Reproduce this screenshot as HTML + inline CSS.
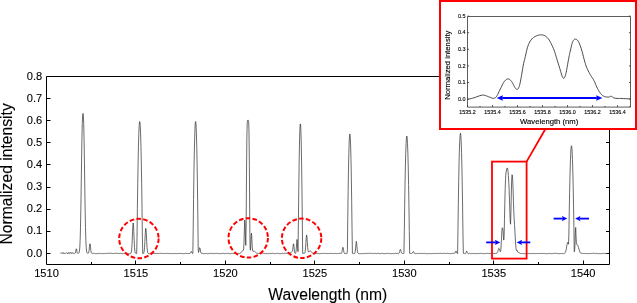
<!DOCTYPE html><html><head><meta charset="utf-8"><style>html,body{margin:0;padding:0;background:#fff;}svg{display:block;will-change:transform;}text{font-family:"Liberation Sans",sans-serif;fill:#000;}</style></head><body>
<svg width="637" height="303" viewBox="0 0 637 303">
<rect x="0" y="0" width="637" height="303" fill="#fff"/>
<path d="M46.5 76.5 H609.5 V264.5 H46.5 Z" fill="none" stroke="#000" stroke-width="1"/>
<path d="M47 253.5 h3.5 M609 253.5 h-3 M47 231.5 h3.5 M609 231.5 h-3 M47 209.5 h3.5 M609 209.5 h-3 M47 187.5 h3.5 M609 187.5 h-3 M47 164.5 h3.5 M609 164.5 h-3 M47 142.5 h3.5 M609 142.5 h-3 M47 120.5 h3.5 M609 120.5 h-3 M47 98.5 h3.5 M609 98.5 h-3 M47 76.5 h3.5 M609 76.5 h-3 M46.5 264 v-3.5 M91.5 264 v-2 M135.5 264 v-3.5 M180.5 264 v-2 M225.5 264 v-3.5 M270.5 264 v-2 M314.5 264 v-3.5 M359.5 264 v-2 M404.5 264 v-3.5 M449.5 264 v-2 M493.5 264 v-3.5 M538.5 264 v-2 M583.5 264 v-3.5" stroke="#000" stroke-width="1" fill="none"/>
<text transform="translate(42.20 256.50) scale(1 1.035)" font-size="11.10" text-anchor="end" stroke="#000" stroke-width="0.10">0.0</text>
<text transform="translate(42.20 234.38) scale(1 1.035)" font-size="11.10" text-anchor="end" stroke="#000" stroke-width="0.10">0.1</text>
<text transform="translate(42.20 212.25) scale(1 1.035)" font-size="11.10" text-anchor="end" stroke="#000" stroke-width="0.10">0.2</text>
<text transform="translate(42.20 190.12) scale(1 1.035)" font-size="11.10" text-anchor="end" stroke="#000" stroke-width="0.10">0.3</text>
<text transform="translate(42.20 168.00) scale(1 1.035)" font-size="11.10" text-anchor="end" stroke="#000" stroke-width="0.10">0.4</text>
<text transform="translate(42.20 145.88) scale(1 1.035)" font-size="11.10" text-anchor="end" stroke="#000" stroke-width="0.10">0.5</text>
<text transform="translate(42.20 123.75) scale(1 1.035)" font-size="11.10" text-anchor="end" stroke="#000" stroke-width="0.10">0.6</text>
<text transform="translate(42.20 101.62) scale(1 1.035)" font-size="11.10" text-anchor="end" stroke="#000" stroke-width="0.10">0.7</text>
<text transform="translate(42.20 79.50) scale(1 1.035)" font-size="11.10" text-anchor="end" stroke="#000" stroke-width="0.10">0.8</text>
<text transform="translate(46.50 277.30) scale(1 1.035)" font-size="11.10" text-anchor="middle" stroke="#000" stroke-width="0.10">1510</text>
<text transform="translate(135.95 277.30) scale(1 1.035)" font-size="11.10" text-anchor="middle" stroke="#000" stroke-width="0.10">1515</text>
<text transform="translate(225.40 277.30) scale(1 1.035)" font-size="11.10" text-anchor="middle" stroke="#000" stroke-width="0.10">1520</text>
<text transform="translate(314.85 277.30) scale(1 1.035)" font-size="11.10" text-anchor="middle" stroke="#000" stroke-width="0.10">1525</text>
<text transform="translate(404.30 277.30) scale(1 1.035)" font-size="11.10" text-anchor="middle" stroke="#000" stroke-width="0.10">1530</text>
<text transform="translate(493.75 277.30) scale(1 1.035)" font-size="11.10" text-anchor="middle" stroke="#000" stroke-width="0.10">1535</text>
<text transform="translate(583.20 277.30) scale(1 1.035)" font-size="11.10" text-anchor="middle" stroke="#000" stroke-width="0.10">1540</text>
<text transform="translate(327.80 299.60) scale(1 1.035)" font-size="15.70" text-anchor="middle" stroke="#000" stroke-width="0.10">Wavelength (nm)</text>
<text transform="translate(11.80 173.85) rotate(-90) scale(1 1.035)" font-size="15.70" text-anchor="middle" stroke="#000" stroke-width="0.10">Normalized intensity</text>
<path d="M60.45 253.25 L60.81 252.81 L61.17 252.80 L61.53 253.23 L61.89 253.66 L62.24 253.40 L62.60 252.91 L62.96 252.42 L63.32 253.04 L63.67 253.66 L64.03 254.00 L64.39 253.53 L64.75 253.06 L65.11 252.97 L65.46 253.25 L65.82 253.54 L66.18 253.35 L66.54 253.01 L66.89 252.66 L67.25 253.15 L67.61 253.64 L67.97 253.84 L68.33 253.18 L68.68 252.51 L69.04 252.48 L69.40 253.09 L69.76 253.70 L70.11 253.42 L70.47 252.85 L70.83 252.28 L71.19 252.85 L71.55 253.42 L71.90 253.72 L72.26 253.20 L72.62 252.67 L72.98 252.64 L73.33 253.11 L73.69 253.57 L74.05 253.62 L74.41 253.52 L74.77 253.42 L75.12 253.29 L75.48 252.71 L75.84 250.99 L76.20 248.90 L76.56 248.97 L76.91 251.13 L77.27 252.79 L77.63 253.29 L77.99 253.37 L78.34 253.35 L78.70 253.20 L79.06 252.79 L79.42 251.41 L79.78 247.87 L80.13 240.45 L80.49 227.73 L80.85 209.16 L81.21 185.94 L81.56 161.18 L81.92 139.12 L82.28 123.29 L82.64 115.16 L83.00 113.39 L83.35 115.26 L83.71 123.45 L84.07 139.17 L84.43 161.12 L84.78 185.87 L85.14 209.20 L85.50 227.80 L85.86 240.36 L86.22 247.61 L86.57 251.15 L86.93 252.62 L87.29 253.12 L87.65 253.26 L88.00 253.30 L88.36 253.19 L88.72 252.48 L89.08 250.43 L89.44 246.90 L89.79 243.88 L90.15 243.98 L90.51 247.17 L90.87 250.58 L91.22 252.51 L91.58 253.18 L91.94 253.40 L92.30 253.49 L92.66 253.48 L93.01 253.39 L93.37 253.29 L93.73 253.28 L94.09 253.29 L94.45 253.30 L94.80 253.45 L95.16 253.60 L95.52 253.71 L95.88 253.70 L96.23 253.70 L96.59 253.69 L96.95 253.67 L97.31 253.65 L97.67 253.54 L98.02 253.40 L98.38 253.25 L98.74 253.36 L99.10 253.46 L99.45 253.52 L99.81 253.49 L100.17 253.45 L100.53 253.46 L100.89 253.53 L101.24 253.59 L101.60 253.58 L101.96 253.54 L102.32 253.50 L102.67 253.52 L103.03 253.54 L103.39 253.56 L103.75 253.57 L104.11 253.58 L104.46 253.56 L104.82 253.51 L105.18 253.47 L105.54 253.45 L105.89 253.46 L106.25 253.46 L106.61 253.39 L106.97 253.33 L107.33 253.30 L107.68 253.34 L108.04 253.38 L108.40 253.38 L108.76 253.33 L109.11 253.28 L109.47 253.28 L109.83 253.30 L110.19 253.31 L110.55 253.28 L110.90 253.26 L111.26 253.25 L111.62 253.32 L111.98 253.38 L112.34 253.46 L112.69 253.56 L113.05 253.65 L113.41 253.58 L113.77 253.44 L114.12 253.31 L114.48 253.29 L114.84 253.27 L115.20 253.26 L115.56 253.27 L115.91 253.28 L116.27 253.32 L116.63 253.38 L116.99 253.45 L117.34 253.44 L117.70 253.41 L118.06 253.39 L118.42 253.48 L118.78 253.58 L119.13 253.62 L119.49 253.50 L119.85 253.38 L120.21 253.35 L120.56 253.40 L120.92 253.45 L121.28 253.50 L121.64 253.56 L122.00 253.61 L122.35 253.66 L122.71 253.70 L123.07 253.69 L123.43 253.54 L123.78 253.39 L124.14 253.30 L124.50 253.27 L124.86 253.25 L125.22 253.37 L125.57 253.54 L125.93 253.72 L126.29 253.58 L126.65 253.44 L127.00 253.36 L127.36 253.43 L127.72 253.51 L128.08 253.57 L128.44 253.62 L128.79 253.67 L129.15 253.66 L129.51 253.64 L129.87 253.61 L130.23 253.51 L130.58 253.37 L130.94 253.08 L131.30 252.23 L131.66 249.88 L132.01 244.90 L132.37 237.03 L132.73 228.37 L133.09 223.01 L133.45 224.33 L133.80 231.47 L134.16 240.53 L134.52 247.58 L134.88 251.47 L135.23 252.93 L135.59 253.30 L135.95 253.39 L136.31 253.49 L136.67 253.57 L137.02 237.49 L137.38 208.44 L137.74 183.53 L138.10 162.83 L138.45 146.28 L138.81 133.88 L139.17 125.70 L139.53 121.66 L139.89 121.66 L140.24 125.70 L140.60 133.87 L140.96 146.35 L141.32 163.02 L141.67 183.83 L142.03 208.68 L142.39 237.67 L142.75 253.69 L143.11 253.57 L143.46 253.33 L143.82 252.79 L144.18 251.28 L144.54 247.69 L144.89 241.41 L145.25 233.88 L145.61 228.53 L145.97 228.49 L146.33 233.77 L146.68 241.23 L147.04 247.47 L147.40 251.13 L147.76 252.78 L148.12 253.40 L148.47 253.63 L148.83 253.69 L149.19 253.72 L149.55 253.74 L149.90 253.58 L150.26 253.42 L150.62 253.33 L150.98 253.44 L151.34 253.55 L151.69 253.54 L152.05 253.41 L152.41 253.29 L152.77 253.27 L153.12 253.28 L153.48 253.29 L153.84 253.39 L154.20 253.49 L154.56 253.56 L154.91 253.54 L155.27 253.53 L155.63 253.52 L155.99 253.50 L156.34 253.49 L156.70 253.47 L157.06 253.45 L157.42 253.42 L157.78 253.43 L158.13 253.44 L158.49 253.45 L158.85 253.46 L159.21 253.47 L159.56 253.46 L159.92 253.45 L160.28 253.44 L160.64 253.39 L161.00 253.33 L161.35 253.27 L161.71 253.35 L162.07 253.43 L162.43 253.50 L162.78 253.51 L163.14 253.53 L163.50 253.51 L163.86 253.45 L164.22 253.40 L164.57 253.45 L164.93 253.55 L165.29 253.64 L165.65 253.63 L166.01 253.61 L166.36 253.57 L166.72 253.44 L167.08 253.31 L167.44 253.29 L167.79 253.38 L168.15 253.47 L168.51 253.48 L168.87 253.48 L169.23 253.47 L169.58 253.58 L169.94 253.68 L170.30 253.74 L170.66 253.66 L171.01 253.58 L171.37 253.53 L171.73 253.50 L172.09 253.47 L172.45 253.54 L172.80 253.65 L173.16 253.75 L173.52 253.64 L173.88 253.52 L174.23 253.44 L174.59 253.43 L174.95 253.43 L175.31 253.49 L175.67 253.60 L176.02 253.71 L176.38 253.65 L176.74 253.54 L177.10 253.43 L177.45 253.46 L177.81 253.49 L178.17 253.51 L178.53 253.47 L178.89 253.43 L179.24 253.44 L179.60 253.50 L179.96 253.56 L180.32 253.53 L180.67 253.46 L181.03 253.39 L181.39 253.38 L181.75 253.38 L182.11 253.41 L182.46 253.55 L182.82 253.68 L183.18 253.75 L183.54 253.74 L183.90 253.74 L184.25 253.64 L184.61 253.53 L184.97 253.41 L185.33 253.35 L185.68 253.30 L186.04 253.29 L186.40 253.43 L186.76 253.56 L187.12 253.61 L187.47 253.57 L187.83 253.53 L188.19 253.50 L188.55 253.48 L188.90 253.45 L189.26 253.50 L189.62 253.54 L189.98 253.49 L190.34 253.12 L190.69 252.32 L191.05 251.50 L191.41 251.51 L191.77 252.34 L192.12 253.13 L192.48 253.48 L192.84 253.56 L193.20 229.68 L193.56 199.67 L193.91 174.53 L194.27 154.29 L194.63 138.88 L194.99 128.27 L195.34 122.46 L195.70 121.48 L196.06 125.28 L196.42 133.91 L196.78 147.36 L197.13 165.86 L197.49 189.19 L197.85 217.24 L198.21 249.75 L198.56 252.45 L198.92 250.89 L199.28 248.94 L199.64 247.69 L200.00 248.18 L200.35 249.99 L200.71 251.89 L201.07 253.01 L201.43 253.48 L201.79 253.59 L202.14 253.50 L202.50 253.39 L202.86 253.39 L203.22 253.50 L203.57 253.61 L203.93 253.65 L204.29 253.66 L204.65 253.67 L205.01 253.62 L205.36 253.57 L205.72 253.52 L206.08 253.47 L206.44 253.42 L206.79 253.45 L207.15 253.57 L207.51 253.68 L207.87 253.68 L208.23 253.64 L208.58 253.59 L208.94 253.59 L209.30 253.59 L209.66 253.56 L210.01 253.47 L210.37 253.37 L210.73 253.36 L211.09 253.44 L211.45 253.51 L211.80 253.47 L212.16 253.39 L212.52 253.31 L212.88 253.44 L213.23 253.58 L213.59 253.67 L213.95 253.64 L214.31 253.60 L214.67 253.56 L215.02 253.50 L215.38 253.44 L215.74 253.39 L216.10 253.34 L216.45 253.30 L216.81 253.38 L217.17 253.46 L217.53 253.54 L217.89 253.58 L218.24 253.62 L218.60 253.66 L218.96 253.68 L219.32 253.70 L219.68 253.64 L220.03 253.56 L220.39 253.48 L220.75 253.55 L221.11 253.62 L221.46 253.63 L221.82 253.52 L222.18 253.40 L222.54 253.33 L222.90 253.33 L223.25 253.32 L223.61 253.42 L223.97 253.54 L224.33 253.67 L224.68 253.65 L225.04 253.63 L225.40 253.59 L225.76 253.49 L226.12 253.39 L226.47 253.35 L226.83 253.38 L227.19 253.42 L227.55 253.40 L227.90 253.37 L228.26 253.34 L228.62 253.43 L228.98 253.52 L229.34 253.59 L229.69 253.63 L230.05 253.68 L230.41 253.68 L230.77 253.65 L231.12 253.62 L231.48 253.54 L231.84 253.44 L232.20 253.34 L232.56 253.44 L232.91 253.55 L233.27 253.62 L233.63 253.60 L233.99 253.59 L234.34 253.57 L234.70 253.56 L235.06 253.55 L235.42 253.54 L235.78 253.54 L236.13 253.54 L236.49 253.54 L236.85 253.55 L237.21 253.52 L237.57 253.42 L237.92 253.32 L238.28 253.35 L238.64 253.49 L239.00 253.62 L239.35 253.66 L239.71 253.63 L240.07 253.56 L240.43 253.21 L240.79 252.77 L241.14 252.29 L241.50 251.88 L241.86 251.44 L242.22 251.03 L242.57 250.71 L242.93 250.56 L243.29 250.41 L243.65 248.83 L244.01 242.45 L244.36 229.88 L244.72 220.12 L245.08 224.18 L245.44 237.63 L245.79 245.38 L246.15 225.02 L246.51 175.14 L246.87 136.83 L247.23 122.85 L247.58 120.37 L247.94 120.18 L248.30 120.20 L248.66 121.65 L249.01 132.13 L249.37 165.40 L249.73 216.99 L250.09 247.83 L250.45 250.23 L250.80 243.91 L251.16 235.63 L251.52 233.15 L251.88 239.21 L252.23 246.88 L252.59 250.74 L252.95 251.51 L253.31 251.33 L253.67 251.08 L254.02 251.01 L254.38 251.14 L254.74 251.46 L255.10 251.80 L255.46 252.15 L255.81 252.48 L256.17 252.88 L256.53 253.20 L256.89 253.38 L257.24 253.38 L257.60 253.34 L257.96 253.39 L258.32 253.55 L258.68 253.70 L259.03 253.62 L259.39 253.45 L259.75 253.29 L260.11 253.33 L260.46 253.37 L260.82 253.39 L261.18 253.34 L261.54 253.30 L261.90 253.28 L262.25 253.28 L262.61 253.29 L262.97 253.29 L263.33 253.29 L263.68 253.29 L264.04 253.35 L264.40 253.41 L264.76 253.49 L265.12 253.60 L265.47 253.70 L265.83 253.69 L266.19 253.55 L266.55 253.41 L266.90 253.45 L267.26 253.56 L267.62 253.67 L267.98 253.65 L268.34 253.62 L268.69 253.59 L269.05 253.52 L269.41 253.45 L269.77 253.43 L270.12 253.45 L270.48 253.48 L270.84 253.50 L271.20 253.52 L271.56 253.55 L271.91 253.44 L272.27 253.34 L272.63 253.28 L272.99 253.35 L273.35 253.41 L273.70 253.47 L274.06 253.52 L274.42 253.57 L274.78 253.60 L275.13 253.61 L275.49 253.63 L275.85 253.51 L276.21 253.40 L276.57 253.33 L276.92 253.40 L277.28 253.47 L277.64 253.48 L278.00 253.42 L278.35 253.36 L278.71 253.41 L279.07 253.50 L279.43 253.58 L279.79 253.61 L280.14 253.64 L280.50 253.64 L280.86 253.58 L281.22 253.51 L281.57 253.45 L281.93 253.40 L282.29 253.35 L282.65 253.43 L283.01 253.55 L283.36 253.67 L283.72 253.55 L284.08 253.43 L284.44 253.34 L284.79 253.31 L285.15 253.29 L285.51 253.29 L285.87 253.31 L286.23 253.33 L286.58 253.33 L286.94 253.33 L287.30 253.33 L287.66 253.49 L288.01 253.64 L288.37 253.73 L288.73 253.60 L289.09 253.46 L289.45 253.33 L289.80 253.18 L290.16 252.95 L290.52 252.77 L290.88 252.57 L291.24 252.36 L291.59 252.03 L291.95 251.82 L292.31 251.50 L292.67 250.20 L293.02 247.07 L293.38 243.80 L293.74 244.03 L294.10 247.76 L294.46 251.38 L294.81 253.03 L295.17 253.45 L295.53 253.37 L295.89 252.51 L296.24 249.51 L296.60 243.86 L296.96 239.44 L297.32 241.13 L297.68 246.99 L298.03 251.59 L298.39 223.89 L298.75 190.83 L299.11 164.13 L299.46 144.07 L299.82 130.69 L300.18 124.00 L300.54 124.00 L300.90 130.68 L301.25 144.05 L301.61 164.11 L301.97 190.86 L302.33 224.15 L302.68 253.42 L303.04 253.25 L303.40 253.27 L303.76 253.29 L304.12 253.32 L304.47 253.34 L304.83 252.96 L305.19 251.44 L305.55 247.94 L305.90 242.56 L306.26 237.22 L306.62 234.93 L306.98 237.21 L307.34 242.44 L307.69 247.57 L308.05 250.73 L308.41 251.93 L308.77 252.02 L309.13 251.67 L309.48 251.23 L309.84 250.88 L310.20 250.78 L310.56 250.89 L310.91 251.19 L311.27 251.65 L311.63 252.14 L311.99 252.61 L312.35 252.99 L312.70 253.27 L313.06 253.45 L313.42 253.52 L313.78 253.55 L314.13 253.60 L314.49 253.65 L314.85 253.70 L315.21 253.62 L315.57 253.53 L315.92 253.46 L316.28 253.43 L316.64 253.40 L317.00 253.42 L317.35 253.48 L317.71 253.55 L318.07 253.61 L318.43 253.67 L318.79 253.72 L319.14 253.70 L319.50 253.68 L319.86 253.66 L320.22 253.62 L320.57 253.59 L320.93 253.54 L321.29 253.50 L321.65 253.46 L322.01 253.42 L322.36 253.38 L322.72 253.35 L323.08 253.43 L323.44 253.51 L323.79 253.54 L324.15 253.46 L324.51 253.38 L324.87 253.36 L325.23 253.39 L325.58 253.43 L325.94 253.46 L326.30 253.50 L326.66 253.54 L327.02 253.55 L327.37 253.56 L327.73 253.56 L328.09 253.54 L328.45 253.51 L328.80 253.48 L329.16 253.44 L329.52 253.40 L329.88 253.43 L330.24 253.49 L330.59 253.54 L330.95 253.49 L331.31 253.44 L331.67 253.41 L332.02 253.45 L332.38 253.50 L332.74 253.54 L333.10 253.58 L333.46 253.62 L333.81 253.59 L334.17 253.54 L334.53 253.48 L334.89 253.45 L335.24 253.42 L335.60 253.43 L335.96 253.55 L336.32 253.67 L336.68 253.69 L337.03 253.63 L337.39 253.56 L337.75 253.54 L338.11 253.54 L338.46 253.54 L338.82 253.45 L339.18 253.36 L339.54 253.30 L339.90 253.28 L340.25 253.27 L340.61 253.32 L340.97 253.42 L341.33 253.43 L341.68 252.94 L342.04 251.59 L342.40 249.32 L342.76 247.41 L343.12 247.43 L343.47 249.40 L343.83 251.67 L344.19 253.02 L344.55 253.49 L344.91 253.55 L345.26 253.53 L345.62 253.57 L345.98 253.63 L346.34 253.70 L346.69 253.57 L347.05 253.43 L347.41 249.90 L347.77 218.31 L348.13 191.74 L348.48 170.15 L348.84 153.55 L349.20 141.96 L349.56 135.44 L349.91 133.95 L350.27 137.48 L350.63 146.04 L350.99 159.61 L351.35 178.20 L351.70 201.78 L352.06 230.37 L352.42 253.39 L352.78 253.43 L353.13 253.46 L353.49 253.53 L353.85 253.62 L354.21 253.70 L354.57 253.53 L354.92 253.00 L355.28 251.39 L355.64 247.97 L356.00 243.54 L356.35 241.36 L356.71 243.55 L357.07 248.07 L357.43 251.50 L357.79 252.95 L358.14 253.27 L358.50 253.49 L358.86 253.64 L359.22 253.74 L359.57 253.73 L359.93 253.72 L360.29 253.72 L360.65 253.71 L361.01 253.71 L361.36 253.60 L361.72 253.45 L362.08 253.30 L362.44 253.43 L362.80 253.57 L363.15 253.68 L363.51 253.71 L363.87 253.74 L364.23 253.67 L364.58 253.52 L364.94 253.36 L365.30 253.42 L365.66 253.56 L366.02 253.70 L366.37 253.56 L366.73 253.42 L367.09 253.33 L367.45 253.36 L367.80 253.39 L368.16 253.39 L368.52 253.36 L368.88 253.33 L369.24 253.30 L369.59 253.28 L369.95 253.26 L370.31 253.33 L370.67 253.40 L371.02 253.45 L371.38 253.40 L371.74 253.36 L372.10 253.41 L372.46 253.56 L372.81 253.71 L373.17 253.64 L373.53 253.50 L373.89 253.36 L374.24 253.41 L374.60 253.46 L374.96 253.48 L375.32 253.44 L375.68 253.41 L376.03 253.44 L376.39 253.56 L376.75 253.68 L377.11 253.62 L377.46 253.49 L377.82 253.37 L378.18 253.33 L378.54 253.30 L378.90 253.31 L379.25 253.48 L379.61 253.65 L379.97 253.71 L380.33 253.66 L380.69 253.61 L381.04 253.56 L381.40 253.51 L381.76 253.47 L382.12 253.42 L382.47 253.36 L382.83 253.35 L383.19 253.47 L383.55 253.58 L383.91 253.64 L384.26 253.65 L384.62 253.67 L384.98 253.66 L385.34 253.65 L385.69 253.63 L386.05 253.56 L386.41 253.49 L386.77 253.43 L387.13 253.41 L387.48 253.38 L387.84 253.40 L388.20 253.47 L388.56 253.54 L388.91 253.56 L389.27 253.57 L389.63 253.57 L389.99 253.56 L390.35 253.56 L390.70 253.56 L391.06 253.57 L391.42 253.58 L391.78 253.57 L392.13 253.56 L392.49 253.55 L392.85 253.59 L393.21 253.66 L393.57 253.72 L393.92 253.64 L394.28 253.56 L394.64 253.48 L395.00 253.39 L395.35 253.29 L395.71 253.30 L396.07 253.41 L396.43 253.52 L396.79 253.50 L397.14 253.43 L397.50 253.37 L397.86 253.48 L398.22 253.59 L398.58 253.63 L398.93 253.38 L399.29 252.78 L399.65 251.59 L400.01 250.11 L400.36 249.38 L400.72 250.11 L401.08 251.58 L401.44 252.73 L401.80 253.27 L402.15 253.44 L402.51 253.49 L402.87 253.50 L403.23 253.51 L403.58 253.49 L403.94 253.46 L404.30 231.75 L404.66 206.23 L405.02 184.63 L405.37 166.94 L405.73 153.37 L406.09 143.71 L406.45 137.94 L406.80 135.99 L407.16 137.96 L407.52 143.79 L407.88 153.46 L408.24 167.05 L408.59 184.63 L408.95 206.16 L409.31 231.60 L409.67 253.36 L410.02 253.43 L410.38 253.49 L410.74 253.51 L411.10 253.52 L411.46 253.50 L411.81 253.44 L412.17 253.29 L412.53 253.00 L412.89 252.30 L413.24 251.59 L413.60 251.57 L413.96 252.37 L414.32 253.16 L414.68 253.54 L415.03 253.64 L415.39 253.62 L415.75 253.55 L416.11 253.47 L416.47 253.49 L416.82 253.55 L417.18 253.60 L417.54 253.61 L417.90 253.63 L418.25 253.62 L418.61 253.53 L418.97 253.44 L419.33 253.37 L419.69 253.32 L420.04 253.27 L420.40 253.35 L420.76 253.48 L421.12 253.61 L421.47 253.53 L421.83 253.45 L422.19 253.41 L422.55 253.46 L422.91 253.52 L423.26 253.50 L423.62 253.42 L423.98 253.33 L424.34 253.35 L424.69 253.40 L425.05 253.46 L425.41 253.52 L425.77 253.58 L426.13 253.63 L426.48 253.64 L426.84 253.65 L427.20 253.67 L427.56 253.71 L427.91 253.74 L428.27 253.69 L428.63 253.60 L428.99 253.51 L429.35 253.53 L429.70 253.55 L430.06 253.57 L430.42 253.61 L430.78 253.65 L431.13 253.66 L431.49 253.62 L431.85 253.58 L432.21 253.58 L432.57 253.59 L432.92 253.59 L433.28 253.51 L433.64 253.42 L434.00 253.38 L434.36 253.51 L434.71 253.63 L435.07 253.61 L435.43 253.44 L435.79 253.28 L436.14 253.31 L436.50 253.41 L436.86 253.51 L437.22 253.49 L437.58 253.46 L437.93 253.45 L438.29 253.48 L438.65 253.50 L439.01 253.48 L439.36 253.41 L439.72 253.34 L440.08 253.32 L440.44 253.33 L440.80 253.33 L441.15 253.38 L441.51 253.43 L441.87 253.47 L442.23 253.49 L442.58 253.50 L442.94 253.49 L443.30 253.44 L443.66 253.39 L444.02 253.36 L444.37 253.34 L444.73 253.31 L445.09 253.40 L445.45 253.49 L445.80 253.54 L446.16 253.47 L446.52 253.41 L446.88 253.35 L447.24 253.31 L447.59 253.27 L447.95 253.33 L448.31 253.42 L448.67 253.52 L449.02 253.56 L449.38 253.61 L449.74 253.64 L450.10 253.64 L450.46 253.64 L450.81 253.59 L451.17 253.50 L451.53 253.41 L451.89 253.39 L452.25 253.40 L452.60 253.41 L452.96 253.35 L453.32 253.30 L453.68 253.26 L454.03 253.28 L454.39 253.29 L454.75 253.25 L455.11 252.93 L455.47 252.09 L455.82 251.15 L456.18 251.16 L456.54 252.15 L456.90 253.09 L457.25 253.51 L457.61 253.61 L457.97 228.74 L458.33 203.15 L458.69 181.50 L459.04 163.80 L459.40 150.10 L459.76 140.45 L460.12 134.82 L460.47 133.19 L460.83 135.58 L461.19 141.98 L461.55 152.40 L461.91 166.93 L462.26 185.46 L462.62 207.86 L462.98 234.15 L463.34 253.34 L463.69 253.39 L464.05 253.49 L464.41 253.60 L464.77 253.58 L465.13 253.54 L465.48 253.41 L465.84 252.96 L466.20 252.02 L466.56 251.15 L466.91 251.28 L467.27 252.30 L467.63 253.21 L467.99 253.60 L468.35 253.70 L468.70 253.57 L469.06 253.43 L469.42 253.35 L469.78 253.45 L470.14 253.56 L470.49 253.60 L470.85 253.59 L471.21 253.58 L471.57 253.54 L471.92 253.50 L472.28 253.46 L472.64 253.44 L473.00 253.42 L473.36 253.44 L473.71 253.57 L474.07 253.70 L474.43 253.73 L474.79 253.67 L475.14 253.60 L475.50 253.57 L475.86 253.55 L476.22 253.53 L476.58 253.52 L476.93 253.51 L477.29 253.52 L477.65 253.57 L478.01 253.63 L478.36 253.62 L478.72 253.55 L479.08 253.47 L479.44 253.40 L479.80 253.33 L480.15 253.26 L480.51 253.37 L480.87 253.48 L481.23 253.55 L481.58 253.52 L481.94 253.49 L482.30 253.52 L482.66 253.60 L483.02 253.68 L483.37 253.68 L483.73 253.65 L484.09 253.62 L484.45 253.54 L484.80 253.47 L485.16 253.44 L485.52 253.55 L485.88 253.65 L486.24 253.63 L486.59 253.48 L486.95 253.33 L487.31 253.29 L487.67 253.29 L488.03 253.28 L488.38 253.44 L488.74 253.60 L489.10 253.67 L489.46 253.51 L489.81 253.35 L490.17 253.32 L490.53 253.43 L490.89 253.54 L491.25 253.51 L491.60 253.43 L491.96 253.36 L492.32 253.36 L492.68 253.36 L493.03 253.39 L493.39 253.47 L493.75 253.56 L494.11 253.57 L494.47 253.50 L494.82 253.42 L495.18 253.41 L495.54 253.41 L495.90 253.42 L496.25 253.39 L496.61 253.36 L496.97 253.14 L497.33 252.41 L497.69 251.64 L498.04 250.60 L498.40 249.46 L498.76 248.32 L499.12 248.67 L499.47 249.52 L499.83 250.46 L500.19 251.68 L500.55 251.48 L500.91 248.97 L501.26 242.41 L501.62 236.06 L501.98 229.99 L502.34 227.73 L502.69 228.09 L503.05 230.86 L503.41 236.84 L503.77 240.13 L504.13 235.70 L504.48 219.29 L504.84 202.17 L505.20 188.42 L505.56 179.24 L505.92 173.21 L506.27 171.07 L506.63 168.96 L506.99 168.34 L507.35 167.91 L507.70 169.04 L508.06 171.54 L508.42 175.53 L508.78 182.21 L509.14 189.70 L509.49 200.18 L509.85 210.82 L510.21 221.66 L510.57 224.22 L510.92 212.51 L511.28 195.04 L511.64 181.08 L512.00 174.72 L512.36 175.15 L512.71 179.92 L513.07 188.93 L513.43 201.50 L513.79 211.82 L514.14 218.58 L514.50 224.48 L514.86 230.23 L515.22 237.48 L515.58 243.00 L515.93 247.48 L516.29 249.94 L516.65 250.62 L517.01 250.69 L517.36 250.34 L517.72 251.99 L518.08 252.39 L518.44 252.45 L518.80 252.59 L519.15 252.77 L519.51 252.95 L519.87 253.12 L520.23 253.46 L520.58 253.47 L520.94 253.45 L521.30 253.43 L521.66 253.44 L522.02 253.48 L522.37 253.51 L522.73 253.54 L523.09 253.57 L523.45 253.60 L523.81 253.63 L524.16 253.65 L524.52 253.68 L524.88 253.70 L525.24 253.72 L525.59 253.67 L525.95 253.54 L526.31 253.42 L526.67 253.38 L527.03 253.37 L527.38 253.36 L527.74 253.41 L528.10 253.45 L528.46 253.47 L528.81 253.43 L529.17 253.39 L529.53 253.41 L529.89 253.48 L530.25 253.56 L530.60 253.59 L530.96 253.61 L531.32 253.62 L531.68 253.60 L532.03 253.58 L532.39 253.54 L532.75 253.44 L533.11 253.35 L533.47 253.38 L533.82 253.54 L534.18 253.70 L534.54 253.68 L534.90 253.59 L535.25 253.50 L535.61 253.55 L535.97 253.60 L536.33 253.61 L536.69 253.51 L537.04 253.41 L537.40 253.40 L537.76 253.48 L538.12 253.56 L538.47 253.58 L538.83 253.58 L539.19 253.59 L539.55 253.58 L539.91 253.56 L540.26 253.54 L540.62 253.52 L540.98 253.49 L541.34 253.46 L541.70 253.41 L542.05 253.37 L542.41 253.42 L542.77 253.50 L543.13 253.58 L543.48 253.48 L543.84 253.39 L544.20 253.35 L544.56 253.49 L544.92 253.64 L545.27 253.69 L545.63 253.66 L545.99 253.63 L546.35 253.65 L546.70 253.68 L547.06 253.71 L547.42 253.71 L547.78 253.71 L548.14 253.67 L548.49 253.54 L548.85 253.42 L549.21 253.36 L549.57 253.37 L549.92 253.38 L550.28 253.46 L550.64 253.56 L551.00 253.67 L551.36 253.67 L551.71 253.67 L552.07 253.65 L552.43 253.61 L552.79 253.57 L553.14 253.51 L553.50 253.45 L553.86 253.39 L554.22 253.36 L554.58 253.35 L554.93 253.33 L555.29 253.35 L555.65 253.36 L556.01 253.38 L556.36 253.41 L556.72 253.44 L557.08 253.49 L557.44 253.58 L557.80 253.67 L558.15 253.65 L558.51 253.60 L558.87 253.55 L559.23 253.59 L559.59 253.63 L559.94 253.65 L560.30 253.58 L560.66 253.52 L561.02 253.48 L561.37 253.47 L561.73 253.47 L562.09 253.52 L562.45 253.59 L562.81 253.66 L563.16 253.65 L563.52 253.63 L563.88 253.58 L564.24 253.43 L564.59 253.20 L564.95 252.95 L565.31 252.58 L565.67 251.84 L566.03 250.42 L566.38 248.47 L566.74 246.25 L567.10 244.24 L567.46 242.78 L567.81 242.23 L568.17 242.75 L568.53 244.19 L568.89 234.00 L569.25 211.65 L569.60 192.66 L569.96 176.74 L570.32 163.97 L570.68 154.45 L571.03 148.35 L571.39 145.74 L571.75 146.68 L572.11 151.21 L572.47 159.35 L572.82 171.04 L573.18 186.28 L573.54 205.05 L573.90 227.41 L574.25 251.81 L574.61 250.40 L574.97 244.83 L575.33 232.76 L575.69 227.46 L576.04 236.08 L576.40 243.23 L576.76 244.55 L577.12 244.56 L577.48 244.88 L577.83 245.57 L578.19 246.58 L578.55 247.77 L578.91 249.00 L579.26 250.14 L579.62 251.15 L579.98 252.06 L580.34 252.76 L580.70 253.14 L581.05 253.23 L581.41 253.23 L581.77 253.29 L582.13 253.35 L582.48 253.40 L582.84 253.44 L583.20 253.48 L583.56 253.50 L583.92 253.50 L584.27 253.49 L584.63 253.49 L584.99 253.51 L585.35 253.52 L585.70 253.56 L586.06 253.61 L586.42 253.66 L586.78 253.60 L587.14 253.53 L587.49 253.51 L587.85 253.60 L588.21 253.70 L588.57 253.70 L588.92 253.61 L589.28 253.52 L589.64 253.48 L590.00 253.45 L590.36 253.42 L590.71 253.46 L591.07 253.50 L591.43 253.52 L591.79 253.50 L592.14 253.48 L592.50 253.43 L592.86 253.35 L593.22 253.28 L593.58 253.27 L593.93 253.28 L594.29 253.29 L594.65 253.44 L595.01 253.58 L595.37 253.66 L595.72 253.53 L596.08 253.41 L596.44 253.36 L596.80 253.39 L597.15 253.43 L597.51 253.52 L597.87 253.63 L598.23 253.74 L598.59 253.68 L598.94 253.62 L599.30 253.58 L599.66 253.60 L600.02 253.63 L600.37 253.66 L600.73 253.69 L601.09 253.72 L601.45 253.66 L601.81 253.57 L602.16 253.48 L602.52 253.40 L602.88 253.33 L603.24 253.30 L603.59 253.42 L603.95 253.54 L604.31 253.54 L604.67 253.44 L605.03 253.33 L605.38 253.33 L605.74 253.36 L606.10 253.40 L606.46 253.50 L606.81 253.61 L607.17 253.66 L607.53 253.52 L607.89 253.38 L608.25 253.33 L608.60 253.38 L608.96 253.43" fill="none" stroke="#3a3a3a" stroke-width="0.75" stroke-linejoin="round"/>
<circle cx="138.9" cy="238.5" r="19.7" fill="none" stroke="#f00" stroke-width="2" stroke-dasharray="4.6 2.3"/>
<circle cx="248.2" cy="237.9" r="19.7" fill="none" stroke="#f00" stroke-width="2" stroke-dasharray="4.6 2.3"/>
<circle cx="301.6" cy="238.3" r="19.7" fill="none" stroke="#f00" stroke-width="2" stroke-dasharray="4.6 2.3"/>
<rect x="492" y="161.6" width="34.6" height="97" fill="none" stroke="#f00" stroke-width="1.8"/>
<path d="M545.4 129 L526.6 161.6" stroke="#f00" stroke-width="1.8" fill="none"/>
<path d="M486.2 242.4 L495.9 242.4" stroke="#00f" stroke-width="1.8" fill="none"/><path d="M500.3 242.4 L494.9 239.7 L495.9 242.4 L494.9 245.1 Z" fill="#00f"/>
<path d="M530.3 242.4 L521.1 242.4" stroke="#00f" stroke-width="1.8" fill="none"/><path d="M516.7 242.4 L522.1 239.7 L521.1 242.4 L522.1 245.1 Z" fill="#00f"/>
<path d="M553.6 218.6 L562.9 218.6" stroke="#00f" stroke-width="1.8" fill="none"/><path d="M567.3 218.6 L561.9 215.9 L562.9 218.6 L561.9 221.3 Z" fill="#00f"/>
<path d="M589.0 218.6 L579.5 218.6" stroke="#00f" stroke-width="1.8" fill="none"/><path d="M575.1 218.6 L580.5 215.9 L579.5 218.6 L580.5 221.3 Z" fill="#00f"/>
<rect x="440" y="1" width="196" height="128" fill="#fff" stroke="#f00" stroke-width="2"/>
<path d="M467.5 16.5 H630.5 V107.1 H467.5 Z" fill="none" stroke="#333" stroke-width="0.8"/>
<path d="M467.5 99.10 h1.6 M630.5 99.10 h-1.6 M467.5 82.50 h1.6 M630.5 82.50 h-1.6 M467.5 65.90 h1.6 M630.5 65.90 h-1.6 M467.5 49.30 h1.6 M630.5 49.30 h-1.6 M467.5 32.70 h1.6 M630.5 32.70 h-1.6 M467.5 16.10 h1.6 M630.5 16.10 h-1.6 M467.50 107.1 v-2 M480.00 107.1 v-1.2 M492.50 107.1 v-2 M505.00 107.1 v-1.2 M517.50 107.1 v-2 M530.00 107.1 v-1.2 M542.50 107.1 v-2 M555.00 107.1 v-1.2 M567.50 107.1 v-2 M580.00 107.1 v-1.2 M592.50 107.1 v-2 M605.00 107.1 v-1.2 M617.50 107.1 v-2 M630.00 107.1 v-1.2" stroke="#333" stroke-width="0.8" fill="none"/>
<text transform="translate(465.60 100.70) scale(1 1.035)" font-size="5.50" text-anchor="end" stroke="#000" stroke-width="0.12">0.0</text>
<text transform="translate(465.60 84.10) scale(1 1.035)" font-size="5.50" text-anchor="end" stroke="#000" stroke-width="0.12">0.1</text>
<text transform="translate(465.60 67.50) scale(1 1.035)" font-size="5.50" text-anchor="end" stroke="#000" stroke-width="0.12">0.2</text>
<text transform="translate(465.60 50.90) scale(1 1.035)" font-size="5.50" text-anchor="end" stroke="#000" stroke-width="0.12">0.3</text>
<text transform="translate(465.60 34.30) scale(1 1.035)" font-size="5.50" text-anchor="end" stroke="#000" stroke-width="0.12">0.4</text>
<text transform="translate(465.60 17.70) scale(1 1.035)" font-size="5.50" text-anchor="end" stroke="#000" stroke-width="0.12">0.5</text>
<text transform="translate(467.50 113.70) scale(1 1.035)" font-size="5.35" text-anchor="middle" stroke="#000" stroke-width="0.12">1535.2</text>
<text transform="translate(492.50 113.70) scale(1 1.035)" font-size="5.35" text-anchor="middle" stroke="#000" stroke-width="0.12">1535.4</text>
<text transform="translate(517.50 113.70) scale(1 1.035)" font-size="5.35" text-anchor="middle" stroke="#000" stroke-width="0.12">1535.6</text>
<text transform="translate(542.50 113.70) scale(1 1.035)" font-size="5.35" text-anchor="middle" stroke="#000" stroke-width="0.12">1535.8</text>
<text transform="translate(567.50 113.70) scale(1 1.035)" font-size="5.35" text-anchor="middle" stroke="#000" stroke-width="0.12">1536.0</text>
<text transform="translate(592.50 113.70) scale(1 1.035)" font-size="5.35" text-anchor="middle" stroke="#000" stroke-width="0.12">1536.2</text>
<text transform="translate(617.50 113.70) scale(1 1.035)" font-size="5.35" text-anchor="middle" stroke="#000" stroke-width="0.12">1536.4</text>
<text transform="translate(549.20 124.20) scale(1 1.035)" font-size="7.70" text-anchor="middle" stroke="#000" stroke-width="0.12">Wavelength (nm)</text>
<text transform="translate(449.90 65.20) rotate(-90) scale(1 1.035)" font-size="7.70" text-anchor="middle" stroke="#000" stroke-width="0.12">Normalized intensity</text>
<path d="M467.50 99.40 L468.17 99.24 L469.08 99.03 L470.16 98.77 L471.37 98.47 L472.63 98.15 L473.90 97.80 L475.24 97.36 L476.70 96.82 L478.22 96.25 L479.74 95.72 L481.19 95.31 L482.50 95.10 L483.67 95.12 L484.74 95.31 L485.75 95.63 L486.70 96.01 L487.61 96.38 L488.50 96.70 L489.36 97.00 L490.19 97.35 L490.97 97.70 L491.71 98.00 L492.42 98.22 L493.10 98.30 L493.72 98.29 L494.27 98.24 L494.79 98.09 L495.30 97.82 L495.82 97.37 L496.40 96.70 L497.03 95.74 L497.69 94.51 L498.36 93.11 L499.05 91.62 L499.73 90.15 L500.40 88.80 L501.06 87.49 L501.71 86.15 L502.37 84.82 L503.02 83.56 L503.66 82.44 L504.30 81.50 L504.93 80.73 L505.55 80.09 L506.17 79.58 L506.78 79.21 L507.39 78.98 L508.00 78.90 L508.61 78.99 L509.22 79.26 L509.82 79.66 L510.43 80.19 L511.02 80.81 L511.60 81.50 L512.18 82.35 L512.76 83.40 L513.33 84.54 L513.88 85.68 L514.41 86.70 L514.90 87.50 L515.35 88.12 L515.77 88.65 L516.17 89.07 L516.55 89.35 L516.92 89.47 L517.30 89.40 L517.68 89.16 L518.06 88.75 L518.42 88.19 L518.79 87.46 L519.15 86.56 L519.50 85.50 L519.85 84.21 L520.19 82.67 L520.52 80.97 L520.86 79.17 L521.18 77.36 L521.50 75.60 L521.81 73.85 L522.11 72.03 L522.40 70.20 L522.69 68.39 L522.99 66.64 L523.30 65.00 L523.61 63.51 L523.93 62.15 L524.25 60.85 L524.58 59.55 L524.93 58.19 L525.30 56.70 L525.68 55.03 L526.07 53.21 L526.47 51.33 L526.91 49.47 L527.38 47.70 L527.90 46.10 L528.47 44.66 L529.09 43.30 L529.74 42.04 L530.43 40.89 L531.15 39.83 L531.90 38.90 L532.70 38.09 L533.56 37.41 L534.46 36.84 L535.36 36.36 L536.25 35.95 L537.10 35.60 L537.92 35.31 L538.73 35.10 L539.53 34.96 L540.31 34.89 L541.07 34.87 L541.80 34.90 L542.50 34.96 L543.16 35.06 L543.79 35.21 L544.42 35.44 L545.05 35.76 L545.70 36.20 L546.36 36.74 L547.01 37.35 L547.68 38.06 L548.34 38.88 L549.01 39.82 L549.70 40.90 L550.42 42.16 L551.16 43.60 L551.92 45.17 L552.66 46.80 L553.36 48.43 L554.00 50.00 L554.56 51.53 L555.07 53.06 L555.54 54.59 L555.99 56.12 L556.43 57.66 L556.90 59.20 L557.39 60.77 L557.89 62.36 L558.39 63.96 L558.88 65.53 L559.35 67.05 L559.80 68.50 L560.23 69.91 L560.63 71.33 L561.02 72.69 L561.40 73.95 L561.76 75.07 L562.10 76.00 L562.42 76.75 L562.71 77.37 L562.98 77.84 L563.25 78.16 L563.52 78.31 L563.80 78.30 L564.10 78.11 L564.40 77.75 L564.70 77.23 L565.00 76.56 L565.30 75.75 L565.60 74.80 L565.89 73.67 L566.17 72.34 L566.46 70.86 L566.74 69.31 L567.02 67.73 L567.30 66.20 L567.59 64.66 L567.87 63.06 L568.16 61.44 L568.45 59.85 L568.73 58.32 L569.00 56.90 L569.26 55.62 L569.50 54.46 L569.73 53.36 L569.97 52.28 L570.22 51.17 L570.50 50.00 L570.80 48.70 L571.11 47.29 L571.43 45.86 L571.77 44.49 L572.13 43.24 L572.50 42.20 L572.89 41.35 L573.30 40.61 L573.72 40.01 L574.16 39.55 L574.62 39.24 L575.10 39.10 L575.61 39.11 L576.15 39.26 L576.71 39.57 L577.27 40.04 L577.84 40.68 L578.40 41.50 L578.96 42.56 L579.53 43.87 L580.10 45.36 L580.66 46.94 L581.20 48.54 L581.70 50.10 L582.16 51.65 L582.60 53.27 L583.01 54.91 L583.40 56.53 L583.80 58.11 L584.20 59.60 L584.59 60.99 L584.96 62.32 L585.33 63.59 L585.71 64.84 L586.13 66.07 L586.60 67.30 L587.13 68.55 L587.71 69.79 L588.33 71.02 L588.96 72.22 L589.59 73.39 L590.20 74.50 L590.80 75.52 L591.40 76.46 L592.00 77.35 L592.60 78.26 L593.20 79.22 L593.80 80.30 L594.40 81.53 L595.00 82.89 L595.59 84.30 L596.19 85.71 L596.79 87.07 L597.40 88.30 L598.01 89.43 L598.63 90.52 L599.25 91.54 L599.87 92.49 L600.49 93.35 L601.10 94.10 L601.70 94.73 L602.28 95.26 L602.86 95.69 L603.45 96.04 L604.06 96.34 L604.70 96.60 L605.40 96.80 L606.16 96.93 L606.94 97.00 L607.70 97.03 L608.40 97.02 L609.00 97.00 L609.47 96.92 L609.83 96.75 L610.14 96.56 L610.43 96.38 L610.77 96.28 L611.20 96.30 L611.69 96.48 L612.19 96.80 L612.74 97.19 L613.35 97.59 L614.06 97.95 L614.90 98.20 L615.88 98.34 L617.00 98.41 L618.21 98.44 L619.48 98.45 L620.79 98.46 L622.10 98.50 L623.53 98.57 L625.12 98.64 L626.75 98.72 L628.28 98.79 L629.57 98.86 L630.50 98.90" fill="none" stroke="#333" stroke-width="0.9" stroke-linejoin="round"/>
<path d="M502.3 98.0 L596.8 98.0" stroke="#00f" stroke-width="1.8" fill="none"/>
<path d="M496.7 98 L502.9 95.2 L502.3 98 L502.9 100.8 Z" fill="#00f"/>
<path d="M602.4 98 L596.2 95.2 L596.8 98 L596.2 100.8 Z" fill="#00f"/>
</svg></body></html>
